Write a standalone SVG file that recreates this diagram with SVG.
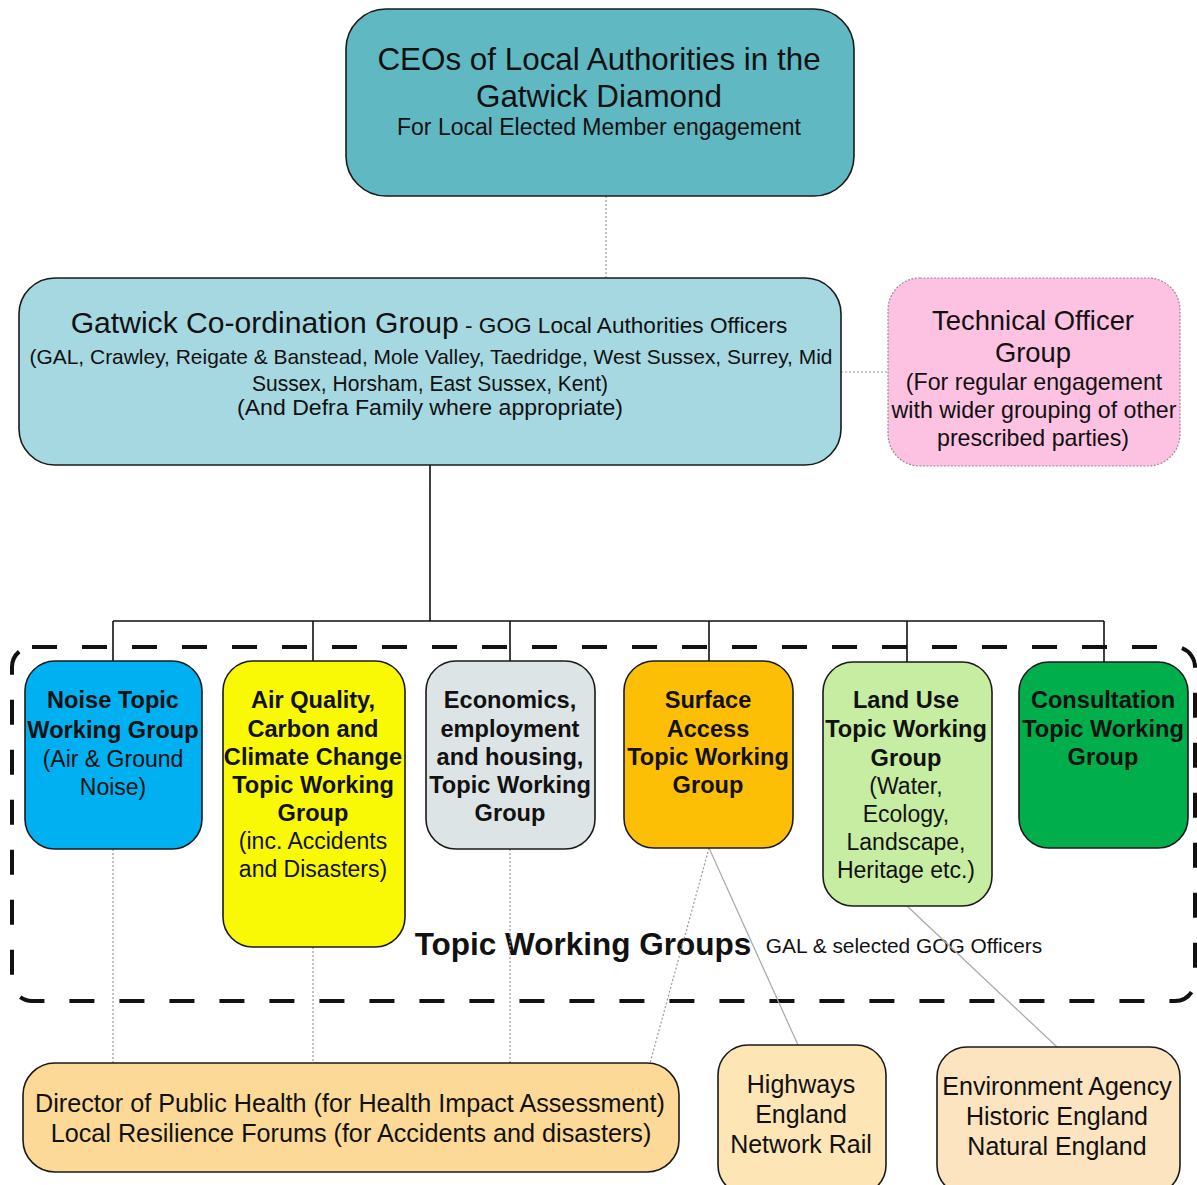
<svg xmlns="http://www.w3.org/2000/svg" width="1197" height="1185" viewBox="0 0 1197 1185">
  <style>
    text { font-family: "Liberation Sans", Arial, sans-serif; fill: #111; text-anchor: middle; }
    .box { stroke: #1a1a1a; stroke-width: 1.6; }
    .b { font-weight: bold; font-size: 23.6px; }
    .n { font-size: 23px; }
    .solid { stroke: #111; stroke-width: 1.6; fill: none; }
    .dot { stroke: #9a9a9a; stroke-width: 1.2; stroke-dasharray: 2 2; fill: none; }
    .thin { stroke: #a8a8a8; stroke-width: 1.2; fill: none; }
  </style>
  <rect width="1197" height="1185" fill="#ffffff"/>

  <!-- dashed enclosure around the topic working groups -->
  <g id="twg-frame">
    <rect x="12" y="647" width="1183" height="354" rx="20" fill="none" stroke="#111" stroke-width="4" stroke-dasharray="25 25"/>
    <text x="583" y="955" style="font-weight:bold;font-size:31.5px">Topic Working Groups</text>
    <text x="904" y="953" style="font-size:20.9px">GAL &amp; selected GOG Officers</text>
  </g>

  <!-- connectors -->
  <g id="connectors">
    <line class="dot" x1="606" y1="196" x2="606" y2="278"/>
    <line class="dot" x1="841" y1="372" x2="888" y2="372"/>
    <path class="solid" d="M430 465 V621 M113 621 H1104 M113 621 V661 M313 621 V661 M510 621 V661 M709 621 V661 M907 621 V662 M1104 621 V662"/>
    <line class="dot" x1="113" y1="849" x2="113" y2="1063"/>
    <line class="dot" x1="313" y1="947" x2="313" y2="1063"/>
    <line class="dot" x1="510" y1="849" x2="510" y2="1063"/>
    <line class="dot" x1="709" y1="848" x2="650" y2="1063"/>
    <line class="thin" x1="709" y1="848" x2="798" y2="1045"/>
    <line class="thin" x1="907" y1="906" x2="1057" y2="1047"/>
  </g>

  <g id="ceos">
    <rect class="box" x="346" y="9" width="508" height="187" rx="40" fill="#60b8c3"/>
    <text x="599" y="70" style="font-size:31.4px">CEOs of Local Authorities in the</text>
    <text x="599" y="107" style="font-size:31.4px">Gatwick Diamond</text>
    <text x="599" y="135" style="font-size:23px">For Local Elected Member engagement</text>
  </g>

  <g id="coordination">
    <rect class="box" x="19" y="278" width="822" height="187" rx="36" fill="#a6d8e2"/>
    <text x="429" y="333"><tspan style="font-size:30.1px">Gatwick Co-ordination Group</tspan><tspan style="font-size:22.6px"> - GOG Local Authorities Officers</tspan></text>
    <text x="431" y="364" style="font-size:21px" textLength="803" lengthAdjust="spacingAndGlyphs">(GAL, Crawley, Reigate &amp; Banstead, Mole Valley, Taedridge, West Sussex, Surrey, Mid</text>
    <text x="430" y="391" style="font-size:21.2px" textLength="356" lengthAdjust="spacingAndGlyphs">Sussex, Horsham, East Sussex, Kent)</text>
    <text x="430" y="415" style="font-size:22px" textLength="386" lengthAdjust="spacingAndGlyphs">(And Defra Family where appropriate)</text>
  </g>

  <g id="technical-officer">
    <rect x="888" y="278" width="292" height="188" rx="32" fill="#fdc2e1" stroke="#9a8a94" stroke-width="1.2" stroke-dasharray="2 1.5"/>
    <text x="1033" y="330" style="font-size:27.4px">Technical Officer</text>
    <text x="1033" y="362" style="font-size:27.4px">Group</text>
    <text x="1034" y="390" style="font-size:23.2px">(For regular engagement</text>
    <text x="1034" y="418" style="font-size:23.2px">with wider grouping of other</text>
    <text x="1033" y="446" style="font-size:23.2px">prescribed parties)</text>
  </g>

  <g id="noise">
    <rect class="box" x="25" y="661" width="177" height="188" rx="30" fill="#00b0f0"/>
    <text class="b" x="113" y="708">Noise Topic</text>
    <text class="b" x="113" y="738">Working Group</text>
    <text class="n" x="113" y="767">(Air &amp; Ground</text>
    <text class="n" x="113" y="795">Noise)</text>
  </g>

  <g id="air-quality">
    <rect class="box" x="223" y="661" width="182" height="286" rx="30" fill="#f9f906"/>
    <text class="b" x="313" y="708">Air Quality,</text>
    <text class="b" x="313" y="737">Carbon and</text>
    <text class="b" x="313" y="765">Climate Change</text>
    <text class="b" x="313" y="793">Topic Working</text>
    <text class="b" x="313" y="821">Group</text>
    <text class="n" x="313" y="849">(inc. Accidents</text>
    <text class="n" x="313" y="877">and Disasters)</text>
  </g>

  <g id="economics">
    <rect class="box" x="426" y="661" width="169" height="188" rx="30" fill="#dde4e5"/>
    <text class="b" x="510" y="708">Economics,</text>
    <text class="b" x="510" y="737">employment</text>
    <text class="b" x="510" y="765">and housing,</text>
    <text class="b" x="510" y="793">Topic Working</text>
    <text class="b" x="510" y="821">Group</text>
  </g>

  <g id="surface-access">
    <rect class="box" x="624" y="661" width="169" height="187" rx="30" fill="#fdbf06"/>
    <text class="b" x="708" y="708">Surface</text>
    <text class="b" x="708" y="737">Access</text>
    <text class="b" x="708" y="765">Topic Working</text>
    <text class="b" x="708" y="793">Group</text>
  </g>

  <g id="land-use">
    <rect class="box" x="823" y="662" width="169" height="244" rx="30" fill="#c6eda1"/>
    <text class="b" x="906" y="708">Land Use</text>
    <text class="b" x="906" y="737">Topic Working</text>
    <text class="b" x="906" y="766">Group</text>
    <text class="n" x="906" y="794">(Water,</text>
    <text class="n" x="906" y="822">Ecology,</text>
    <text class="n" x="906" y="850">Landscape,</text>
    <text class="n" x="906" y="878">Heritage etc.)</text>
  </g>

  <g id="consultation">
    <rect class="box" x="1019" y="662" width="169" height="186" rx="30" fill="#00ae4c"/>
    <text class="b" x="1103" y="708">Consultation</text>
    <text class="b" x="1103" y="737">Topic Working</text>
    <text class="b" x="1103" y="765">Group</text>
  </g>

  <g id="public-health">
    <rect class="box" x="23" y="1063" width="656" height="109" rx="32" fill="#fcd996"/>
    <text x="350" y="1112" style="font-size:25.2px">Director of Public Health (for Health Impact Assessment)</text>
    <text x="351" y="1142" style="font-size:25.2px">Local Resilience Forums (for Accidents and disasters)</text>
  </g>

  <g id="highways">
    <rect class="box" x="718" y="1045" width="168" height="150" rx="30" fill="#fde5b6"/>
    <text x="801" y="1093" style="font-size:25px">Highways</text>
    <text x="801" y="1123" style="font-size:25px">England</text>
    <text x="801" y="1153" style="font-size:25px">Network Rail</text>
  </g>

  <g id="environment">
    <rect class="box" x="937" y="1047" width="243" height="148" rx="30" fill="#fde4c0"/>
    <text x="1057" y="1095" style="font-size:25px">Environment Agency</text>
    <text x="1057" y="1125" style="font-size:25px">Historic England</text>
    <text x="1057" y="1155" style="font-size:25px">Natural England</text>
  </g>
</svg>
